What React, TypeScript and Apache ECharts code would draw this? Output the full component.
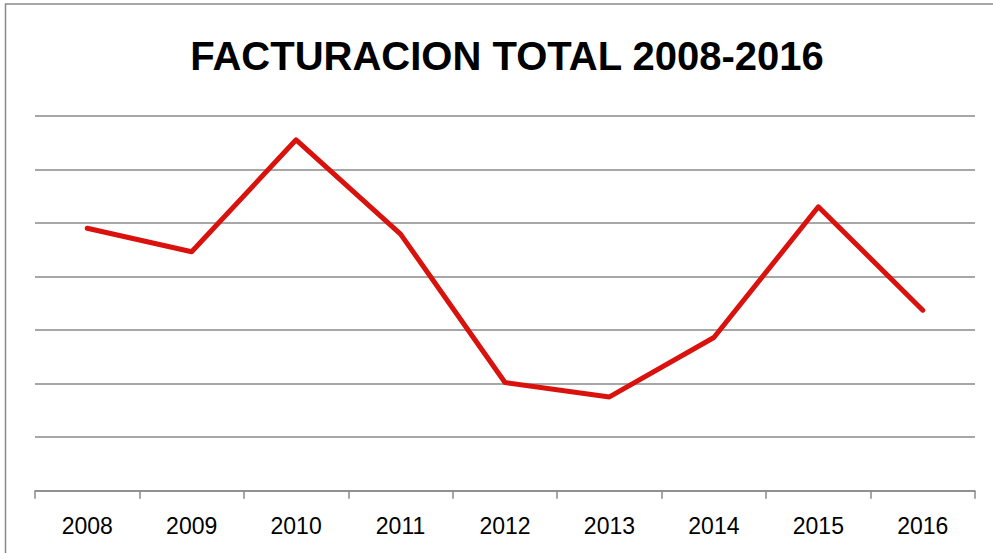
import React, { useEffect, useRef } from "react";
import * as echarts from "echarts";

const categories = ["2008", "2009", "2010", "2011", "2012", "2013", "2014", "2015", "2016"];
const values = [4.9, 4.46, 6.55, 4.79, 2.02, 1.75, 2.86, 5.3, 3.37];
const titleText = "FACTURACION TOTAL 2008-2016";

export default function App() {
  const ref = useRef<HTMLDivElement>(null);
  useEffect(() => {
    document.body.style.margin = "0";
    const chart = echarts.init(ref.current!, null, { renderer: "svg" });
    chart.setOption({
      animation: false,
      backgroundColor: "#ffffff",
      graphic: [
        {
          type: "rect",
          shape: { x: 5.5, y: 4, width: 1200, height: 800 },
          style: { fill: "none", stroke: "#8a8a8a", lineWidth: 1.5 },
          silent: true,
        },
        {
          type: "text",
          x: 507,
          y: 56,
          style: {
            text: titleText,
            fontFamily: "Liberation Sans",
            fontWeight: "bold",
            fontSize: 40,
            fill: "#000000",
            textAlign: "center",
            textVerticalAlign: "middle",
          },
        },
      ],
      grid: { left: 35, right: 18, top: 115.7, bottom: 62.3, containLabel: false },
      xAxis: {
        type: "category",
        data: categories,
        boundaryGap: true,
        axisLine: { show: true, lineStyle: { color: "#8a8a8a", width: 1.5 } },
        axisTick: { show: true, alignWithLabel: false, length: 8, lineStyle: { color: "#8a8a8a", width: 1.5 } },
        axisLabel: {
          color: "#000000",
          fontFamily: "Liberation Sans",
          fontSize: 23,
          margin: 24,
        },
        splitLine: { show: false },
      },
      yAxis: {
        type: "value",
        min: 0,
        max: 7,
        interval: 1,
        axisLine: { show: false },
        axisTick: { show: false },
        axisLabel: { show: false },
        splitLine: { show: true, lineStyle: { color: "#8a8a8a", width: 1.5 } },
      },
      series: [
        {
          type: "line",
          data: values,
          symbol: "none",
          lineStyle: { color: "#d9120e", width: 5, cap: "round", join: "round" },
        },
      ],
    });
    return () => chart.dispose();
  }, []);
  return <div ref={ref} style={{ width: 993, height: 553 }} />;
}
